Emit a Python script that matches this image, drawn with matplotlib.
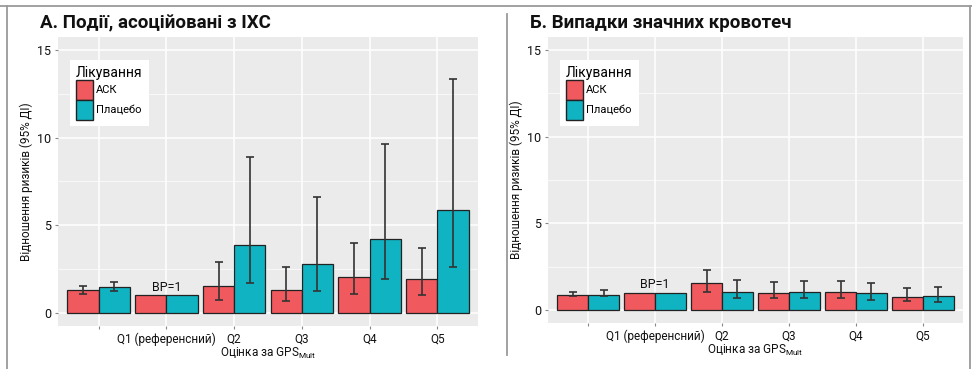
import matplotlib
matplotlib.use("Agg")
from matplotlib import pyplot as plt
from matplotlib.patches import Patch
from matplotlib.lines import Line2D
import numpy as np

plt.rcParams['font.family'] = ['Roboto', 'DejaVu Sans']

groups = ["", "Q1 (референсний)", "Q2", "Q3", "Q4", "Q5"]
treat = ["АСК", "Плацебо"]

# panel A: events associated with CHD
a_ask = [1.27, 1.0, 1.50, 1.27, 2.05, 1.90]
a_ask_lo = [1.04, 1.0, 0.74, 0.64, 1.08, 0.99]
a_ask_hi = [1.52, 1.0, 2.90, 2.62, 3.99, 3.68]
a_plc = [1.44, 1.0, 3.87, 2.79, 4.22, 5.87]
a_plc_lo = [1.23, 1.0, 1.71, 1.21, 1.90, 2.62]
a_plc_hi = [1.74, 1.0, 8.92, 6.61, 9.65, 13.33]

# panel B: major bleeding
b_ask = [0.88, 1.0, 1.54, 0.99, 1.04, 0.77]
b_ask_lo = [0.83, 1.0, 1.02, 0.69, 0.72, 0.52]
b_ask_hi = [1.06, 1.0, 2.30, 1.60, 1.65, 1.27]
b_plc = [0.88, 1.0, 1.04, 1.04, 0.96, 0.81]
b_plc_lo = [0.79, 1.0, 0.67, 0.67, 0.60, 0.49]
b_plc_hi = [1.13, 1.0, 1.71, 1.67, 1.57, 1.34]

RED = '#F05A5F'
TEAL = '#10B3C1'
W = 972
H = 369

fig = plt.figure(figsize=(9.72, 3.69), dpi=100)

# frame lines like the source figure
frame = dict(color='#9a9a9a', lw=1.3, transform=fig.transFigure)
fig.add_artist(Line2D([0, 1], [1 - 6 / H, 1 - 6 / H], **frame))
fig.add_artist(Line2D([7 / W, 7 / W], [0, 1 - 6 / H], **frame))
fig.add_artist(Line2D([970 / W, 970 / W], [0, 1 - 6 / H], **frame))
fig.add_artist(Line2D([507 / W, 507 / W], [14 / H, 1 - 14 / H], **frame))


def panel(rect, title, tx, ask, ask_lo, ask_hi, plc, plc_lo, plc_hi):
    ax = fig.add_axes(rect)
    ax.set_facecolor('#EBEBEB')
    x = np.arange(len(groups))
    bw = 0.46
    ax.bar(x - bw / 2, ask, bw, color=RED, edgecolor='#222222', lw=0.9, zorder=3)
    ax.bar(x + bw / 2, plc, bw, color=TEAL, edgecolor='#222222', lw=0.9, zorder=3)
    for i in range(len(groups)):
        if i == 1:
            continue
        ax.errorbar(x[i] - bw / 2, ask[i],
                    yerr=[[ask[i] - ask_lo[i]], [ask_hi[i] - ask[i]]],
                    fmt='none', ecolor='#333333', elinewidth=1.2, capsize=3,
                    capthick=1.2, zorder=4)
        ax.errorbar(x[i] + bw / 2, plc[i],
                    yerr=[[plc[i] - plc_lo[i]], [plc_hi[i] - plc[i]]],
                    fmt='none', ecolor='#333333', elinewidth=1.2, capsize=3,
                    capthick=1.2, zorder=4)
    ax.text(x[1], 1.08, "BP=1", ha='center', va='bottom', fontsize=9, color='#111111')

    ax.set_xlim(-0.6, 5.6)
    ax.set_ylim(-0.75, 15.75)
    ax.set_xticks(x)
    ax.set_xticklabels(groups, fontsize=8.5, color='#111111')
    ax.set_yticks([0, 5, 10, 15])
    ax.set_yticks([2.5, 7.5, 12.5], minor=True)
    ax.tick_params(axis='y', labelsize=9, colors='#111111', length=2, color='#888888', pad=3)
    ax.tick_params(axis='y', which='minor', length=0)
    ax.tick_params(axis='x', length=2, color='#888888', pad=3)
    ax.grid(True, which='major', color='white', lw=1.1, zorder=0)
    ax.grid(True, which='minor', axis='y', color='white', lw=0.5, zorder=0)
    ax.set_axisbelow(True)
    for s in ax.spines.values():
        s.set_visible(False)

    ax.set_ylabel("Відношення ризиків (95% ДІ)", fontsize=8.5, color='#111111', labelpad=3)
    ax.set_xlabel("Оцінка за GPS$_{\\mathregular{Mult}}$", fontsize=8.5, color='#111111', labelpad=0)
    fig.text(tx / W, 1 - 28 / H, title, fontsize=13.5, fontweight='bold', ha='left',
             va='baseline', color='#111111')

    handles = [Patch(facecolor=RED, edgecolor='#222222', lw=1.0, label=treat[0]),
               Patch(facecolor=TEAL, edgecolor='#222222', lw=1.0, label=treat[1])]
    leg = ax.legend(handles=handles, title="Лікування", loc='upper left',
                    bbox_to_anchor=(0.015, 0.94), fontsize=8,
                    title_fontproperties={'size': 10, 'weight': 'normal'},
                    frameon=True, fancybox=False, framealpha=1, edgecolor='white',
                    handlelength=1.5, handleheight=2.4, handletextpad=0.3,
                    labelspacing=0.0, borderpad=0.55, alignment='left')
    leg.get_frame().set_linewidth(0)
    return ax


panel([58 / W, (H - 325.7) / H, 420 / W, 288.7 / H],
      "А. Події, асоційовані з ІХС", 40,
      a_ask, a_ask_lo, a_ask_hi, a_plc, a_plc_lo, a_plc_hi)
panel([548 / W, (H - 323) / H, 415 / W, 286 / H],
      "Б. Випадки значних кровотеч", 530,
      b_ask, b_ask_lo, b_ask_hi, b_plc, b_plc_lo, b_plc_hi)

fig.savefig("out.png", dpi=100, facecolor='white')
